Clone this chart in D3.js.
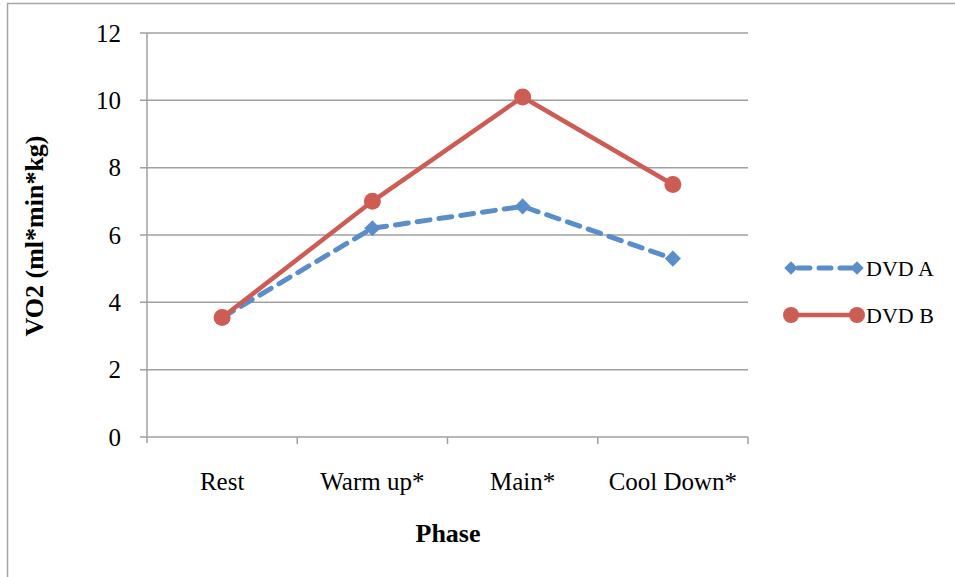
<!DOCTYPE html>
<html><head><meta charset="utf-8">
<script src="https://cdn.jsdelivr.net/npm/d3@7"></script>
<style>body{margin:0;background:#fff}svg{display:block}text{font-family:"Liberation Serif","DejaVu Serif",serif}</style>
</head><body><svg id="c" width="955" height="577"></svg>
<script>
const categories = ["Rest", "Warm up*", "Main*", "Cool Down*"];
const dvdA = [3.55, 6.2, 6.85, 5.3];
const dvdB = [3.55, 7.0, 10.1, 7.5];
const yTicks = [0, 2, 4, 6, 8, 10, 12];
const seriesNames = ["DVD A", "DVD B"];

const svg = d3.select("#c");
svg.append("rect").attr("x",7.5).attr("y",3.5).attr("width",955).attr("height",600)
  .attr("fill","#fff").attr("stroke","#a6a6a6").attr("stroke-width",1.5);

const L = 147, R = 748, T = 33, B = 437;
const x = d3.scaleBand().domain(categories).range([L, R]);
const y = d3.scaleLinear().domain([0, 12]).range([B, T]);
const grid = "#a0a0a0";

svg.append("g").selectAll("line").data(yTicks).join("line")
  .attr("x1", L - 7).attr("x2", R).attr("y1", d => y(d)).attr("y2", d => y(d))
  .attr("stroke", grid).attr("stroke-width", 1.5);
svg.append("line").attr("x1", L).attr("x2", L).attr("y1", T).attr("y2", B + 6)
  .attr("stroke", grid).attr("stroke-width", 1.5);
const bounds = categories.map(c => x(c)).concat([R]);
svg.append("g").selectAll("line").data(bounds.slice(1)).join("line")
  .attr("x1", d => d).attr("x2", d => d).attr("y1", B).attr("y2", B + 7)
  .attr("stroke", grid).attr("stroke-width", 1.5);

svg.append("g").selectAll("text").data(yTicks).join("text")
  .attr("x", 121).attr("y", d => y(d)).attr("dy", "0.35em")
  .attr("text-anchor", "end").attr("font-size", 25).attr("fill", "#000")
  .text(d => d);
svg.append("g").selectAll("text").data(categories).join("text")
  .attr("x", d => x(d) + x.bandwidth() / 2).attr("y", 481).attr("dy", "0.35em")
  .attr("text-anchor", "middle").attr("font-size", 25).attr("fill", "#000")
  .text(d => d);
svg.append("text").attr("x", 448).attr("y", 533).attr("dy", "0.35em")
  .attr("text-anchor", "middle").attr("font-size", 26).attr("font-weight", "bold").text("Phase");
svg.append("text").attr("transform", "translate(34,236) rotate(-90)").attr("dy", "0.35em")
  .attr("text-anchor", "middle").attr("font-size", 26).attr("font-weight", "bold").text("VO2 (ml*min*kg)");

const blue = "#5a8ecb", red = "#cd5c55";
const cx = d => x(d) + x.bandwidth() / 2;
const line = d3.line().x((d, i) => cx(categories[i])).y(d => y(d));

svg.append("path").datum(dvdA).attr("d", line).attr("fill", "none")
  .attr("stroke", blue).attr("stroke-width", 5).attr("stroke-dasharray", "13,9")
  .attr("stroke-linecap", "round");
svg.append("g").selectAll("path").data(dvdA).join("path")
  .attr("transform", (d, i) => `translate(${cx(categories[i])},${y(d)}) rotate(45)`)
  .attr("d", d3.symbol().type(d3.symbolSquare).size(130)).attr("fill", blue);

svg.append("path").datum(dvdB).attr("d", line).attr("fill", "none")
  .attr("stroke", red).attr("stroke-width", 4.5);
svg.append("g").selectAll("circle").data(dvdB).join("circle")
  .attr("cx", (d, i) => cx(categories[i])).attr("cy", d => y(d)).attr("r", 8.5).attr("fill", red);

const lg = svg.append("g");
const legY = [268, 315];
seriesNames.forEach((n, i) => {
  const yy = legY[i];
  if (i === 0) {
    lg.append("line").attr("x1", 790).attr("x2", 858).attr("y1", yy).attr("y2", yy)
      .attr("stroke", blue).attr("stroke-width", 5).attr("stroke-dasharray", "12,9").attr("stroke-linecap", "round")
      .attr("stroke-dashoffset", -8);
    [791, 857].forEach(px => lg.append("path").attr("transform", `translate(${px},${yy}) rotate(45)`)
      .attr("d", d3.symbol().type(d3.symbolSquare).size(90)).attr("fill", blue));
  } else {
    lg.append("line").attr("x1", 791).attr("x2", 857).attr("y1", yy).attr("y2", yy)
      .attr("stroke", red).attr("stroke-width", 4.5);
    [791, 857].forEach(px => lg.append("circle").attr("cx", px).attr("cy", yy).attr("r", 8).attr("fill", red));
  }
  lg.append("text").attr("x", 866).attr("y", yy).attr("dy", "0.35em").attr("font-size", 22).text(n);
});
</script></body></html>
